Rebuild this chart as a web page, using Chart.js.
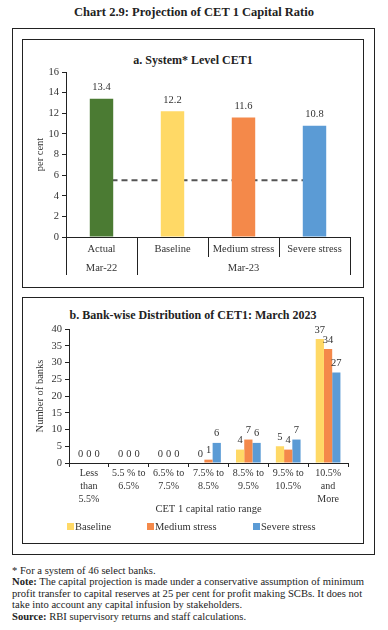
<!DOCTYPE html>
<html>
<head>
<meta charset="utf-8">
<script src="https://cdn.jsdelivr.net/npm/chart.js@4.4.0/dist/chart.umd.min.js"></script>
<style>
  body { margin: 0; background: #fff; font-family: 'Liberation Serif', serif; color: #222; }
  #page { position: relative; width: 388px; height: 630px; }
  .title { position: absolute; left: 0; width: 388px; top: 5px; text-align: center; font-weight: bold; font-size: 12.5px; }
  .outer { position: absolute; left: 12px; top: 28px; width: 361px; height: 525px; border: 1.3px solid #222; }
  .panel { position: absolute; left: 22px; width: 340px; border: 1px solid #222; }
  .ptitle { position: absolute; left: 0; width: 100%; text-align: center; font-weight: bold; }
  canvas { position: absolute; left: 0; top: 0; }
  .foot { position: absolute; left: 12px; top: 565px; width: 376px; font-size: 10.6px; line-height: 11.4px; white-space: nowrap; }
  .lg { position: absolute; top: 223px; font-size: 10.5px; color: #333; white-space: nowrap; }
  .lg i { display: inline-block; width: 7px; height: 7px; margin-right: 1px; vertical-align: 0px; }
</style>
</head>
<body>
<div id="page">
  <div class="title">Chart 2.9: Projection of CET 1 Capital Ratio</div>
  <div class="outer"></div>
  <div class="panel" style="top:39px;height:247px;">
    <div class="ptitle" style="top:13px;font-size:12px;">a. System* Level CET1</div>
    <div style="position:absolute;left:0;top:0;width:339px;height:246px;"><canvas id="chartA"></canvas></div>
  </div>
  <div class="panel" style="top:297px;height:245px;">
    <div class="ptitle" style="top:10px;font-size:12px;">b. Bank-wise Distribution of CET1: March 2023</div>
    <div style="position:absolute;left:0;top:0;width:339px;height:244px;"><canvas id="chartB"></canvas></div>
    <div id="legendB"></div>
  </div>
  <div class="foot">
    * For a system of 46 select banks.<br>
    <b>Note:</b> The capital projection is made under a conservative assumption of minimum<br>
    profit transfer to capital reserves at 25 per cent for profit making SCBs. It does not<br>
    take into account any capital infusion by stakeholders.<br>
    <b>Source:</b> RBI supervisory returns and staff calculations.
  </div>
</div>
<script>
// panel a data
const scenarios = ['Actual', 'Baseline', 'Medium stress', 'Severe stress'];
const periods = ['Mar-22', 'Mar-23'];
const cet1Ratio = [13.4, 12.2, 11.6, 10.8];
const minCet1 = [5.5, 5.5, 5.5, 5.5];
const scenarioColors = ['#4b7b33', '#ffd966', '#f4894a', '#5b9bd5'];

// panel b data
const ranges = [['Less', 'than', '5.5%'], ['5.5 % to', '6.5%'], ['6.5% to', '7.5%'], ['7.5% to', '8.5%'],
  ['8.5% to', '9.5%'], ['9.5% to', '10.5%'], ['10.5%', 'and', 'More']];
const seriesNames = ['Baseline', 'Medium stress', 'Severe stress'];
const baseline = [0, 0, 0, 0, 4, 5, 37];
const medium = [0, 0, 0, 1, 7, 4, 34];
const severe = [0, 0, 0, 6, 6, 7, 27];
const seriesColors = ['#ffd966', '#f4894a', '#5b9bd5'];

const FONT = 'Liberation Serif';
const INK = '#333';
Chart.defaults.font.family = FONT;
Chart.defaults.color = INK;
Chart.defaults.animation = false;

// value labels above bars
const barLabels = {
  id: 'barLabels',
  afterDatasetsDraw(chart, args, opts) {
    const ctx = chart.ctx;
    ctx.save();
    ctx.font = opts.size + 'px ' + FONT;
    ctx.fillStyle = INK;
    ctx.textAlign = 'center';
    ctx.textBaseline = 'bottom';
    chart.data.datasets.forEach((ds, i) => {
      if (ds.type === 'line') return;
      chart.getDatasetMeta(i).data.forEach((bar, j) => {
        ctx.fillText(String(ds.data[j]), bar.x, bar.y - opts.gap);
      });
    });
    ctx.restore();
  }
};

// two-row category axis for panel a
const groupAxis = {
  id: 'groupAxis',
  afterDraw(chart) {
    const x = chart.scales.x;
    const ctx = chart.ctx;
    const w = (x.right - x.left) / scenarios.length;
    const y0 = x.top;
    ctx.save();
    ctx.strokeStyle = '#222';
    ctx.lineWidth = 1;
    ctx.font = '10.5px ' + FONT;
    ctx.fillStyle = INK;
    ctx.textAlign = 'center';
    ctx.textBaseline = 'middle';
    const edges = [];
    for (let i = 0; i <= scenarios.length; i++) edges.push(i < scenarios.length ? x.getPixelForValue(i) - w / 2 : x.getPixelForValue(i - 1) + w / 2);
    edges.forEach((ex, i) => {
      const full = i === 0 || i === 1 || i === scenarios.length;
      ctx.beginPath();
      ctx.moveTo(Math.round(ex) + 0.5, y0);
      ctx.lineTo(Math.round(ex) + 0.5, y0 + (full ? 38 : 20));
      ctx.stroke();
    });
    scenarios.forEach((s, i) => ctx.fillText(s, x.getPixelForValue(i), y0 + 12));
    ctx.fillText(periods[0], x.getPixelForValue(0), y0 + 31);
    ctx.fillText(periods[1], (edges[1] + edges[4]) / 2, y0 + 31);
    ctx.restore();
  }
};

new Chart(document.getElementById('chartA'), {
  data: {
    labels: scenarios,
    datasets: [
      { type: 'bar', data: cet1Ratio, backgroundColor: scenarioColors, barPercentage: 0.33, categoryPercentage: 1 },
      { type: 'line', data: minCet1, borderColor: '#555', borderWidth: 2, borderDash: [6, 4], pointRadius: 0, fill: false }
    ]
  },
  options: {
    responsive: true,
    maintainAspectRatio: false,
    layout: { padding: { top: 32, right: 12, bottom: 0, left: 6 } },
    plugins: { legend: { display: false }, tooltip: { enabled: false }, barLabels: { size: 10.5, gap: 6 } },
    scales: {
      x: {
        offset: true,
        grid: { display: false },
        border: { color: '#222' },
        ticks: { display: false },
        afterFit: s => { s.height = 49; }
      },
      y: {
        min: 0, max: 16,
        ticks: { stepSize: 2, font: { size: 10.5 }, padding: 3 },
        grid: { drawOnChartArea: false, drawTicks: true, tickLength: 4, color: '#222' },
        border: { color: '#222' },
        title: { display: true, text: 'per cent', font: { size: 10.5 }, padding: { top: 5, bottom: 0 } },
        afterFit: s => { s.width = 37; }
      }
    }
  },
  plugins: [barLabels, groupAxis]
});

new Chart(document.getElementById('chartB'), {
  type: 'bar',
  data: {
    labels: ranges,
    datasets: [baseline, medium, severe].map((d, i) => ({
      label: seriesNames[i], data: d, backgroundColor: seriesColors[i], categoryPercentage: 0.62, barPercentage: 1
    }))
  },
  options: {
    responsive: true,
    maintainAspectRatio: false,
    layout: { padding: { top: 31, right: 14, bottom: 26, left: 8 } },
    plugins: {
      legend: { display: false },
      tooltip: { enabled: false },
      barLabels: { size: 10.5, gap: 4 }
    },
    scales: {
      x: {
        grid: { drawOnChartArea: false, drawTicks: true, tickLength: 4, color: '#222', offset: true },
        border: { color: '#222' },
        ticks: { font: { size: 10, lineHeight: 1.3 }, padding: 0, maxRotation: 0, autoSkip: false },
        title: { display: true, text: 'CET 1 capital ratio range', font: { size: 10.5 }, padding: { top: 2, bottom: 0 } },
        afterFit: s => { s.height = 53; }
      },
      y: {
        min: 0, max: 40,
        ticks: { stepSize: 5, font: { size: 10.5 }, padding: 3 },
        grid: { drawOnChartArea: false, drawTicks: true, tickLength: 4, color: '#222' },
        border: { color: '#222' },
        title: { display: true, text: 'Number of banks', font: { size: 10.5 }, padding: { top: 3, bottom: 0 } },
        afterFit: s => { s.width = 38; }
      }
    }
  },
  plugins: [barLabels]
});

// legend for panel b
const legendX = [44, 124, 230];
document.getElementById('legendB').innerHTML = seriesNames.map((n, i) =>
  '<div class="lg" style="left:' + legendX[i] + 'px"><i style="background:' + seriesColors[i] + '"></i>' + n + '</div>').join('');
</script>
</body>
</html>
